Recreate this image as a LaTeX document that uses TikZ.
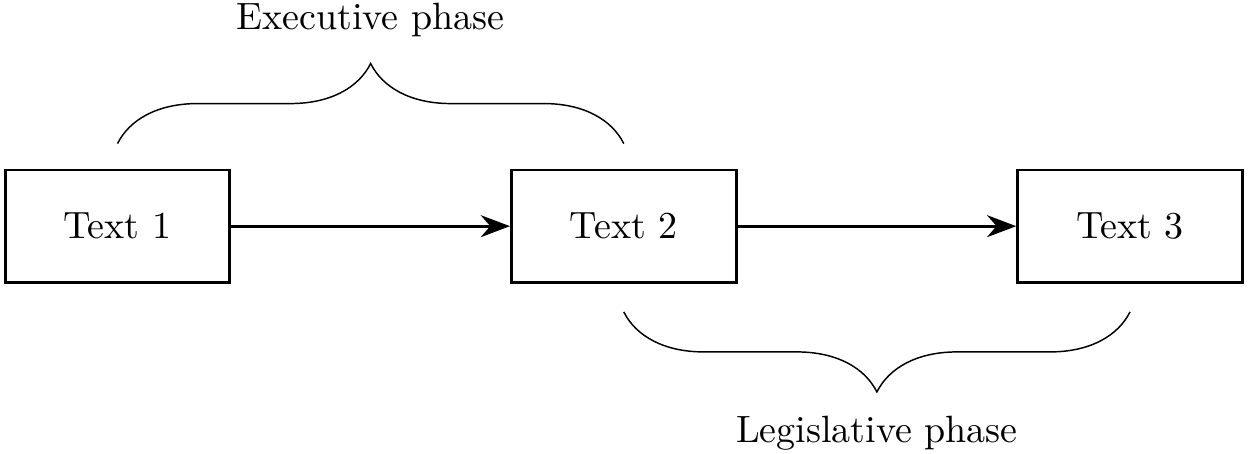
\documentclass[tikz,border=0pt]{standalone}
\usepackage{tikz}
\usetikzlibrary{arrows.meta,positioning,decorations.pathreplacing}

\begin{document}
\begin{tikzpicture}[
    font=\fontsize{10.4pt}{12.5pt}\selectfont,
    box/.style={draw, thick, minimum width=2.16cm, minimum height=1.08cm},
    flow/.style={-{Stealth[length=8pt,width=6pt]}, thick},
    brace/.style={decorate, decoration={brace, amplitude=0.77cm}}
  ]
    \useasboundingbox (0,0) rectangle (12.02,4.365);
    % Boxes
    \node[box] (t1) at (1.13,2.19) {Text 1};
    \node[box, right=2.68cm of t1] (t2) {Text 2};
    \node[box, right=2.68cm of t2] (t3) {Text 3};
    % Arrows
    \draw[flow] (t1) -- (t2);
    \draw[flow] (t2) -- (t3);
    % Executive phase brace
    \coordinate (e1) at ([yshift=0.24cm]t1.north);
    \coordinate (e2) at ([yshift=0.24cm]t2.north);
    \draw[brace] (e1) -- (e2) node[midway, yshift=1.19cm] (exec) {Executive phase};
    % Legislative phase brace
    \coordinate (l1) at ([yshift=-0.27cm]t3.south);
    \coordinate (l2) at ([yshift=-0.27cm]t2.south);
    \draw[brace] (l1) -- (l2) node[midway, yshift=-1.17cm] (legis) {Legislative phase};
  \end{tikzpicture}
\end{document}
